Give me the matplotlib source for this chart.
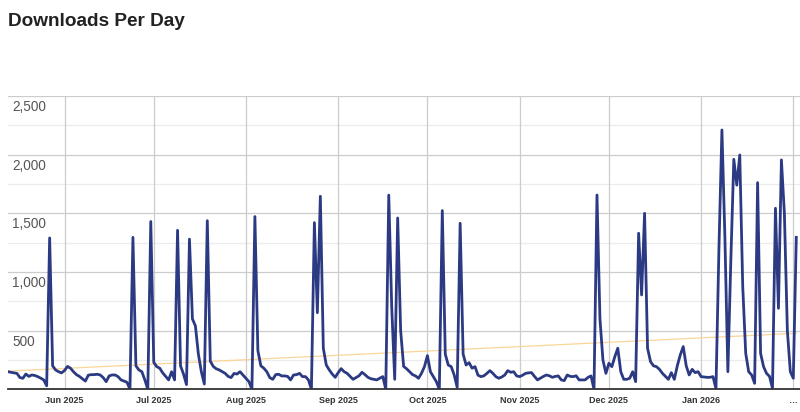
import matplotlib
matplotlib.use("Agg")
import matplotlib.pyplot as plt
import matplotlib.transforms as mtransforms
import pandas as pd

# daily downloads, 13 May 2025 .. 2 Feb 2026
downloads = [
    150, 145, 140, 136, 100, 94, 130, 110, 122, 118,
    108, 95, 80, 30, 1290, 200, 165, 150, 140, 160,
    195, 180, 150, 125, 110, 90, 70, 120, 125, 125,
    128, 122, 100, 65, 114, 122, 122, 108, 80, 70,
    60, 0, 1295, 200, 165, 150, 80, 0, 1430, 230,
    193, 180, 140, 110, 80, 150, 80, 1355, 200, 130,
    40, 1280, 600, 540, 300, 150, 45, 1437, 240, 195,
    175, 165, 150, 136, 110, 100, 135, 130, 150, 122,
    94, 65, 0, 1472, 330, 200, 180, 150, 100, 85,
    125, 128, 114, 114, 110, 80, 122, 125, 136, 108,
    108, 80, 0, 1420, 653, 1645, 350, 207, 165, 130,
    102, 142, 176, 150, 136, 110, 85, 100, 115, 145,
    125, 102, 90, 85, 80, 95, 108, 0, 1655, 700,
    85, 1460, 500, 195, 175, 150, 125, 114, 94, 136,
    193, 287, 150, 108, 65, 0, 1523, 300, 207, 193,
    122, 17, 1415, 300, 207, 227, 180, 193, 120, 108,
    115, 136, 159, 136, 108, 94, 105, 122, 159, 145,
    150, 114, 108, 120, 136, 140, 142, 110, 80, 95,
    110, 122, 115, 102, 110, 114, 80, 74, 122, 110,
    108, 115, 80, 80, 80, 102, 114, 0, 1656, 600,
    250, 136, 222, 193, 278, 350, 150, 85, 85, 94,
    150, 65, 1330, 804, 1500, 350, 236, 200, 193, 170,
    136, 110, 85, 142, 85, 200, 293, 364, 200, 122,
    170, 142, 150, 108, 105, 102, 102, 108, 5, 1200,
    2210, 1300, 150, 1100, 1960, 1740, 1997, 875, 307, 150,
    122, 51, 1761, 307, 193, 136, 110, 8, 1543, 690,
    1955, 1500, 500, 150, 94, 1295,
]
dates = pd.date_range("2025-05-13", periods=len(downloads), freq="D")

# trend line end values
trend_start = 155
trend_end = 477

month_ticks = pd.date_range("2025-06-01", "2026-02-01", freq="MS")
month_labels = ["Jun 2025", "Jul 2025", "Aug 2025", "Sep 2025", "Oct 2025",
                "Nov 2025", "Dec 2025", "Jan 2026", "\u2026"]
y_ticks = [500, 1000, 1500, 2000, 2500]
y_labels = ["500", "1,000", "1,500", "2,000", "2,500"]

fig = plt.figure(figsize=(8, 4.12), dpi=100)
ax = fig.add_axes([0.01, 0.0551, 0.99, 0.712])

ax.plot(dates, downloads, color="#2b3a82", lw=2.0, solid_joinstyle="round", zorder=3)
ax.plot([dates[0], dates[-1]], [trend_start, trend_end], color="#fbd597", lw=0.9, zorder=2)

ax.set_xlim(dates[0], dates[0] + pd.Timedelta(days=266.25))
ax.set_ylim(0, 2500)

# gridlines
for v in range(250, 2500, 500):
    ax.axhline(v, color="#ececec", lw=0.9, zorder=0)
for v in y_ticks:
    ax.axhline(v, color="#cccccc", lw=0.9, zorder=1)
for t in month_ticks:
    ax.axvline(t, color="#cccccc", lw=0.9, zorder=1)
ax.axhline(0, color="#333333", lw=1.3, zorder=4, clip_on=False)

for s in ax.spines.values():
    s.set_visible(False)
ax.set_xticks(month_ticks)
ax.set_xticklabels(month_labels, fontsize=6.5, fontweight="bold", color="#333333",
                   fontfamily="Liberation Sans")
ax.tick_params(axis="x", length=0, pad=5)
ax.set_yticks([])

# y labels sit just under their gridline, inside the plot
trans = mtransforms.blended_transform_factory(fig.transFigure, ax.transData)
trans = mtransforms.offset_copy(trans, fig=fig, x=0, y=-11, units="dots")
for v, lab in zip(y_ticks, y_labels):
    ax.text(12 / 800, v, lab, transform=trans, ha="left", va="center",
            fontsize=9.8, color="#555555", fontfamily="Liberation Sans")

fig.text(8 / 800, 1 - 22 / 412, "Downloads Per Day", ha="left", va="center",
         fontsize=13.7, fontweight="bold", color="#222222", fontfamily="Liberation Sans")

fig.savefig("out.png", dpi=100)
